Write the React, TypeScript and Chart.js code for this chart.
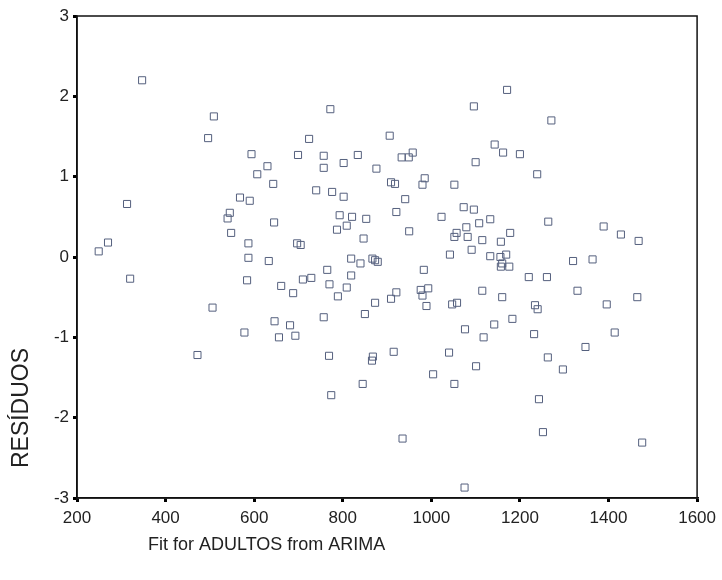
import React, { useEffect, useRef } from "react";
import { Chart, registerables } from "chart.js";

Chart.register(...registerables);

const xTickValues = [200, 400, 600, 800, 1000, 1200, 1400, 1600];
const yTickValues = [-3, -2, -1, 0, 1, 2, 3];
const xTitle = "Fit for ADULTOS from ARIMA";
const yTitle = "RESÍDUOS";

const fitValues = [
  347, 509, 496, 594, 630, 607, 772, 1096, 724, 906, 699, 757, 802, 834, 933, 949, 958, 757, 876, 1100,
  985, 909, 1171, 1271, 1143, 1162, 1200, 1239, 313, 270, 249, 320, 643, 568, 590, 545, 540, 645, 548, 587,
  587, 633, 584, 506, 646, 578, 656, 740, 776, 802, 918, 980, 1052, 941, 793, 821, 853, 787, 809, 921,
  697, 705, 847, 950, 1023, 1073, 1096, 1079, 1108, 1057, 1052, 1082, 1115, 1042, 1091, 819, 840, 867, 879, 873,
  765, 819, 983, 710, 729, 661, 688, 770, 809, 789, 921, 909, 976, 993, 980, 873, 989, 1047, 1058, 1115,
  757, 850, 681, 693, 1076, 1118, 1133, 1264, 1389, 1428, 1468, 1157, 1178, 1133, 1156, 1169, 1157, 1176, 1160, 1320,
  1364, 1220, 1261, 1160, 1330, 1465, 1396, 1234, 1240, 1183, 1142, 1232, 1414, 472, 769, 868, 866, 915, 1040, 1101,
  1004, 845, 1052, 774, 935, 1075, 1263, 1348, 1297, 1243, 1252, 1476,
];

const residualValues = [
  2.2, 1.75, 1.48, 1.28, 1.13, 1.03, 1.84, 1.875, 1.47, 1.51, 1.27, 1.26, 1.17, 1.27, 1.24, 1.24, 1.3, 1.11, 1.1, 1.18,
  0.98, 0.93, 2.08, 1.7, 1.4, 1.3, 1.28, 1.03, 0.66, 0.18, 0.07, -0.27, 0.91, 0.74, 0.7, 0.55, 0.48, 0.43, 0.3, 0.17,
  -0.01, -0.05, -0.29, -0.63, -0.8, -0.94, -1.0, 0.83, 0.81, 0.75, 0.91, 0.9, 0.9, 0.72, 0.52, 0.5, 0.475, 0.34, 0.39, 0.56,
  0.17, 0.15, 0.23, 0.32, 0.5, 0.62, 0.59, 0.37, 0.42, 0.3, 0.25, 0.25, 0.21, 0.03, 0.09, -0.02, -0.08, -0.02, -0.06, -0.04,
  -0.16, -0.23, -0.16, -0.28, -0.26, -0.36, -0.45, -0.34, -0.38, -0.49, -0.44, -0.52, -0.41, -0.39, -0.48, -0.57, -0.61, -0.59, -0.57, -0.42,
  -0.75, -0.71, -0.85, -0.98, -0.9, -1.0, 0.47, 0.44, 0.38, 0.28, 0.2, 0.19, 0.3, 0.01, 0.0, 0.03, -0.12, -0.12, -0.08, -0.05,
  -0.03, -0.25, -0.25, -0.5, -0.42, -0.5, -0.59, -0.6, -0.65, -0.77, -0.84, -0.96, -0.94, -1.22, -1.23, -1.24, -1.29, -1.18, -1.19, -1.36,
  -1.46, -1.58, -1.58, -1.72, -2.26, -2.87, -1.25, -1.12, -1.4, -1.77, -2.18, -2.31,
];

const FONT = '"Liberation Sans", Arial, sans-serif';

const framePlugin = {
  id: "frameAndTitles",
  afterDraw(chart: any) {
    const { ctx, chartArea } = chart;
    ctx.save();
    ctx.strokeStyle = "#111";
    ctx.lineWidth = 1.5;
    ctx.strokeRect(chartArea.left, chartArea.top, chartArea.right - chartArea.left, chartArea.bottom - chartArea.top);
    ctx.fillStyle = "#222";
    ctx.font = `18px ${FONT}`;
    ctx.textAlign = "left";
    ctx.textBaseline = "middle";
    ctx.fillText(xTitle, 148, 545);
    ctx.translate(22, 408);
    ctx.rotate(-Math.PI / 2);
    ctx.textAlign = "center";
    ctx.font = `23px ${FONT}`;
    ctx.fillText(yTitle, 0, 0);
    ctx.restore();
  },
};

export default function App() {
  const ref = useRef<HTMLCanvasElement | null>(null);
  useEffect(() => {
    if (!ref.current) return;
    const points = fitValues.map((x, i) => ({ x, y: residualValues[i] }));
    const chart = new Chart(ref.current, {
      type: "scatter",
      data: {
        datasets: [
          {
            data: points,
            pointStyle: "rect",
            pointRadius: 5,
            pointBorderWidth: 1,
            pointBorderColor: "#55607e",
            pointBackgroundColor: "rgba(0,0,0,0)",
          },
        ],
      },
      options: {
        responsive: false,
        animation: false,
        layout: { padding: { top: 16, right: 22, left: 0, bottom: 0 } },
        plugins: { legend: { display: false }, tooltip: { enabled: false } },
        scales: {
          x: {
            type: "linear",
            min: 200,
            max: 1600,
            afterBuildTicks: (s: any) => {
              s.ticks = xTickValues.map((v) => ({ value: v }));
            },
            afterFit: (s: any) => {
              s.height = 82;
            },
            grid: { drawOnChartArea: false, drawTicks: true, tickLength: 4, color: "#000", lineWidth: 3 },
            border: { display: true, color: "#111", width: 1.5 },
            ticks: {
              color: "#222",
              font: { family: FONT, size: 17 },
              padding: 6,
              maxRotation: 0,
              callback: (v: any) => String(v),
            },
          },
          y: {
            type: "linear",
            min: -3,
            max: 3,
            afterBuildTicks: (s: any) => {
              s.ticks = yTickValues.map((v) => ({ value: v }));
            },
            afterFit: (s: any) => {
              s.width = 77;
            },
            grid: { drawOnChartArea: false, drawTicks: true, tickLength: 4, color: "#000", lineWidth: 3 },
            border: { display: true, color: "#111", width: 1.5 },
            ticks: { color: "#222", font: { family: FONT, size: 17 }, padding: 4, callback: (v: any) => String(v) },
          },
        },
      },
      plugins: [framePlugin],
    });
    return () => chart.destroy();
  }, []);
  return (
    <div style={{ position: "absolute", left: 0, top: 0, width: 722, height: 580, background: "#fff" }}>
      <canvas ref={ref} width={722} height={580} style={{ width: 722, height: 580 }} />
    </div>
  );
}
